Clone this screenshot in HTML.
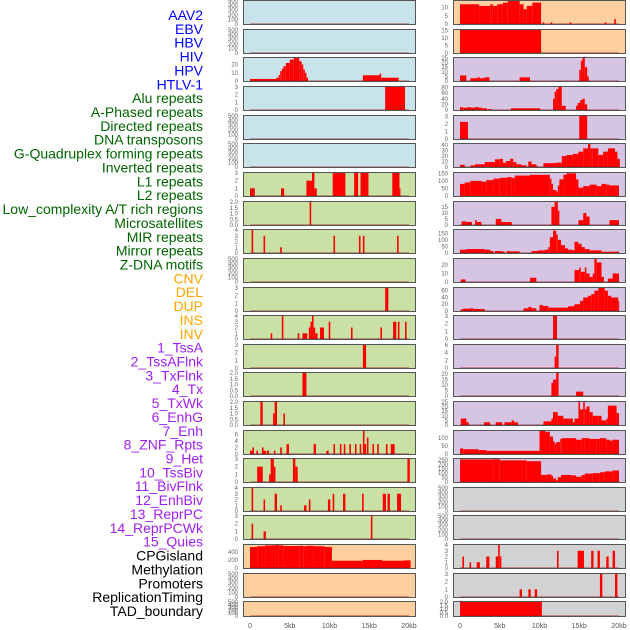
<!DOCTYPE html>
<html><head><meta charset="utf-8"><style>
body{margin:0;background:#fff;width:630px;height:630px;overflow:hidden}
svg{display:block}
</style></head><body>
<svg id="chart" width="630" height="630" xmlns="http://www.w3.org/2000/svg" font-family="Liberation Sans, sans-serif"></svg>
<script>
const trackLabels=["AAV2","EBV","HBV","HIV","HPV","HTLV-1","Alu repeats","A-Phased repeats","Directed repeats","DNA transposons","G-Quadruplex forming repeats","Inverted repeats","L1 repeats","L2 repeats","Low_complexity A/T rich regions","Microsatellites","MIR repeats","Mirror repeats","Z-DNA motifs","CNV","DEL","DUP","INS","INV","1_TssA","2_TssAFlnk","3_TxFlnk","4_Tx","5_TxWk","6_EnhG","7_Enh","8_ZNF_Rpts","9_Het","10_TssBiv","11_BivFlnk","12_EnhBiv","13_ReprPC","14_ReprPCWk","15_Quies","CPGisland","Methylation","Promoters","ReplicationTiming","TAD_boundary"];
const labelColors=["#0000ff","#006400","#ffa500","#a020f0","#000000"];
const labelGroups=[6,13,5,15,5];
const xTickValues=[0,5,10,15,20];
const xTickLabels=["0","5kb","10kb","15kb","20kb"];
const leftBg=["b","b","b","b","b","b","g","g","g","g","g","g","g","g","g","g","g","g","g","o","o","o"];
const rightBg=["o","o","p","p","p","p","p","p","p","p","p","p","p","p","p","p","p","x","x","x","x","x"];
const E=[0,100,200,300,400,500];
const leftTicks=[E,E,[0,10,20],[0,1,2,3],E,E,[0,1,2,3],[0,0.5,1,1.5,2],[0,1,2,3,4],E,[0,1,2,3],[0,1,2,3,4],[0,1,2,3],[0,0.5,1,1.5,2],[0,0.5,1,1.5,2],[0,2,4,6],[0,1,2,3],[0,1,2,3,4],[0,1,2,3],[0,200,400],E,E];
const leftMax=[500,500,28,3,500,500,3,2,4,500,3,4,3,2,2,7,3,4,3,570,500,500];
const rightTicks=[[0,5,10],[0,5,10,15],[0,5,10,15,20,25],[0,20,40,60,80],[0,1,2,3],[0,10,20,30,40],[0,50,100,150],[0,5,10,15],[0,50,100,150],[0,10,20],[0,20,40,60],[0,1,2,3],[0,2,4,6],[0,5,10,15,20],[0,5,10,15,20,25],[0,50,100],[0,50,100,150,200,250],E,E,[0,1,2,3,4],[0,1,2,3],[0,0.5,1,1.5,2]];
const rightMax=[14,15.5,25,82,3.1,42,152,19,175,27,68,3,6,21,25,145,260,500,500,4,3,2];
const leftSegments=[
[],[],
[[0,2,2.5],[2,3.3,2.5],[3.3,3.6,4],[3.6,3.8,7],[3.8,4,12],[4,4.2,15],[4.2,4.5,18],[4.5,5,22],[5,5.5,26],[5.5,6.2,28],[6.2,6.5,24],[6.5,6.7,20],[6.7,6.9,14],[6.9,7.1,10],[7.1,7.3,4],[14.2,16.3,7],[16.3,16.5,9],[16.5,18.7,4]],
[[17,19.5,3]],
[],[],
[[0,0.6,1],[3.9,4.3,1],[7.1,7.6,2],[7.6,7.8,2],[7.8,8.1,3],[8.1,8.4,1],[10.4,12,3],[13.1,13.6,3],[13.9,14.9,3],[17.9,18.8,3],[18.8,18.9,1]],
[[7.5,7.7,2]],
[[0.2,0.4,4],[1.7,1.9,3],[3.8,4,1],[10.5,10.7,3],[13.7,13.9,3],[14.2,14.4,3],[18.5,18.7,3]],
[],
[[17,17.4,3]],
[[2.6,2.8,1],[4,4.2,4],[6,6.2,1],[6.6,7.2,1],[7.4,7.6,2],[7.6,7.8,3],[7.8,8,4],[8,8.2,2],[8.2,8.5,1],[8.8,9.3,2],[9.9,10.1,3],[12.7,12.9,2],[16.4,16.6,2],[18,18.4,3],[18.6,18.8,3],[19.5,19.7,3]],
[[14.2,14.6,3]],
[[6.6,7.1,2]],
[[1.3,1.6,2],[2.9,3.1,1],[3.1,3.4,2],[4.2,4.4,1]],
[[0,0.3,1],[0.3,0.5,2],[0.8,1,1],[1.5,1.7,2],[1.7,2,1],[2.1,2.4,1],[3,3.2,1],[3.8,4,2],[4.6,4.9,3],[8,8.3,3],[9.6,9.9,1],[10.5,10.7,3],[11.3,11.5,3],[11.8,12,3],[12.5,12.7,3],[13.2,13.4,3],[13.8,14,3],[14.2,14.4,7],[14.4,14.6,3],[14.7,14.9,5],[15.4,15.6,3],[16,16.2,3],[17.1,17.3,3],[17.7,18.2,3]],
[[0.9,1.6,2],[2.4,2.6,1],[2.6,3,3],[3,3.2,2],[5.4,5.7,3],[5.7,6,2],[19.8,20.1,3]],
[[0.2,0.4,4],[1.7,1.9,2],[3.1,3.4,3],[3.8,4,1],[6.8,7.1,1],[7.4,7.6,2],[9.8,10.1,2],[10.4,10.6,3],[11.7,12,3],[14.1,14.3,3],[16.7,17.1,3],[17.3,17.6,3],[18.5,19,3]],
[[0.2,0.4,2],[1.7,2,1],[15.2,15.4,3]],
[[0,0.9,520],[0.9,1.9,540],[1.9,3.2,560],[3.2,3.6,570],[3.6,4.2,560],[4.2,6.2,545],[6.2,6.7,550],[6.7,7.1,540],[7.1,8,550],[8,9.4,540],[9.4,10.3,520],[10.3,14.2,180],[14.2,16.6,200],[16.6,19.3,180],[19.3,20.2,190]],
[],[]
];
const rightSegments=[
[[0,2.4,12],[2.4,3.8,11],[3.8,4.1,12],[4.1,4.7,11],[4.7,5.4,12],[5.4,6,13],[6,7.5,15],[7.5,8,12],[8,8.4,9],[8.4,9.1,11],[9.1,10.2,13],[10.4,10.6,1],[11.4,11.6,1],[13.8,14,1],[18.2,18.4,1],[19.4,19.6,3]],
[[0,10.2,15.5]],
[[0,0.8,6],[1.3,2.2,3],[2.2,2.5,4],[2.5,3.1,3],[3.1,3.7,4],[7.5,8.8,4],[15,15.2,12],[15.2,15.4,22],[15.4,15.7,25],[15.7,16,15],[16,16.2,5]],
[[0,0.4,10],[0.4,0.9,8],[0.9,1.4,10],[1.4,1.8,8],[1.8,2.4,10],[2.4,2.8,8],[2.8,3.4,6],[3.5,4,3],[6.4,10.1,6],[11.7,11.9,40],[11.9,12.1,65],[12.1,12.4,75],[12.4,12.8,85],[12.8,13.3,15],[14.6,14.8,15],[14.8,15.1,25],[15.1,15.4,35],[15.4,15.7,40],[15.7,16,20]],
[[0,1,2.3],[15,16,3.2]],
[[0,0.6,4],[1.3,1.9,3],[1.9,3.1,5],[3.1,4.4,9],[4.4,5,14],[5,5.4,15],[5.4,5.8,8],[5.8,6.3,11],[6.3,6.7,15],[6.7,7.1,9],[7.1,7.7,5],[7.7,8.4,3],[8.6,9,10],[9,9.6,5],[9.6,9.8,2],[10.5,12.1,7],[12.1,12.8,8],[12.8,13.4,20],[13.4,14.2,22],[14.2,14.9,24],[14.9,15.5,28],[15.5,16.1,34],[16.1,16.4,42],[16.4,16.7,34],[16.7,17.4,34],[17.4,18,22],[18,18.6,28],[18.6,19.5,34],[19.5,19.8,28],[19.8,20.1,15]],
[[0,0.6,80],[0.6,1.3,90],[1.3,2.7,100],[2.7,3.3,95],[3.3,4.2,105],[4.2,5,115],[5,5.9,120],[5.9,6.5,125],[6.5,6.9,120],[6.9,8.8,135],[8.8,10,140],[10,11.3,140],[11.3,11.5,115],[11.5,11.7,80],[11.7,12.1,40],[12.1,12.3,30],[12.3,12.5,70],[12.5,13,110],[13,13.4,140],[13.4,14.6,150],[14.6,14.9,110],[14.9,15.5,55],[15.5,16.3,65],[16.3,17.2,75],[17.2,17.8,65],[17.8,18.4,80],[18.4,18.8,75],[18.8,20,70]],
[[0.2,0.8,3],[0.8,1.5,2.5],[1.9,2.1,4],[2.1,2.7,2.5],[4.5,5.2,5],[5.2,6.5,2.5],[11.5,11.9,15],[11.9,12.3,19],[12.3,12.5,12],[14.9,15.5,4],[15.5,15.9,10],[15.9,16.3,7],[18.8,20,4]],
[[0,0.8,25],[0.8,1.7,30],[1.7,3.1,30],[3.1,3.8,25],[3.8,4.2,15],[4.4,5.2,15],[5.2,5.6,12],[5.9,6.3,15],[6.3,7.5,12],[9,9.8,15],[9.8,10.7,20],[10.7,11.1,25],[11.1,11.3,45],[11.3,11.7,120],[11.7,12.1,170],[12.1,12.3,140],[12.3,12.7,100],[12.7,13.2,60],[13.2,13.6,35],[13.6,14.2,25],[14.2,14.4,20],[14.4,14.9,85],[14.9,15.3,70],[15.3,15.7,45],[15.7,16.3,30],[16.3,16.7,20],[16.7,17.8,20],[17.8,20,10]],
[[0.1,0.7,3],[8.8,9.6,5],[14.4,15,14],[15,15.2,17],[15.2,15.7,12],[15.7,15.9,17],[15.9,16.3,10],[16.3,16.7,6],[16.7,16.9,10],[16.9,17.2,27],[17.2,17.8,23],[17.8,18.1,6],[18.6,19.2,4],[19.2,20,10]],
[[0.1,0.4,5],[0.4,1.3,7],[1.3,1.7,8],[1.7,3.1,6],[8,8.6,8],[8.6,9,12],[9,9.6,8],[10,10.4,18],[10.4,11.1,15],[11.1,13.6,10],[13.6,14.4,14],[14.4,15.1,20],[15.1,15.5,30],[15.5,16.1,40],[16.1,16.5,45],[16.5,16.9,50],[16.9,17.4,60],[17.4,18.2,68],[18.2,18.6,60],[18.6,19,45],[19,19.9,40],[19.9,20,30]],
[[11.7,12.2,3]],
[[11.9,12.1,3],[12.1,12.4,6]],
[[11.5,11.7,12],[11.7,12.1,15],[12.1,12.4,21],[14.6,15.5,4]],
[[0.1,0.8,7],[0.8,1.1,3],[3,3.8,3],[4.5,5.3,3],[5.6,6.5,3],[6.5,6.8,5],[6.8,7.3,3],[10.5,11.5,4],[11.5,11.7,7],[11.7,12.3,14],[12.3,13,10],[13,13.6,7],[13.6,14.2,7],[14.2,14.4,3],[14.4,14.9,7],[14.9,15.1,25],[15.1,15.5,17],[15.5,15.7,25],[15.7,15.9,17],[15.9,16.3,20],[16.3,16.7,14],[16.7,17.4,10],[17.4,17.8,10],[17.8,18.4,5],[18.4,18.6,7],[18.6,19.7,21],[19.7,20,13]],
[[0,0.4,35],[0.4,2.3,30],[2.3,3.3,25],[3.3,10,20],[10,10.7,145],[10.7,11.3,140],[11.3,11.7,110],[11.7,11.9,80],[11.9,12.1,65],[12.1,12.6,75],[12.6,12.8,95],[12.8,14.6,100],[14.6,15.3,90],[15.3,15.7,100],[15.7,16.3,100],[16.3,17.2,95],[17.2,17.6,95],[17.6,18.4,100],[18.4,18.8,90],[18.8,19.2,85],[19.2,20,90]],
[[0,4.2,255],[4.2,5,258],[5,8.4,245],[8.4,10.2,235],[10.2,10.9,80],[10.9,11.5,85],[11.5,11.7,70],[11.7,12.1,40],[12.1,12.3,20],[12.3,12.7,55],[12.7,14,80],[14,14.6,75],[14.6,15.3,60],[15.3,15.7,80],[15.7,16.7,95],[16.7,17.6,100],[17.6,18.2,110],[18.2,19.2,120],[19.2,20,130]],
[],[],
[[0.3,0.5,2],[1.2,1.4,1],[2.1,2.5,1],[3.3,3.7,2],[4.5,4.8,2],[4.8,5,4],[5,5.2,2],[12.2,12.4,3],[14.8,15.6,3],[16.5,16.8,3],[17.3,17.6,3],[18.4,18.7,2],[19.2,19.5,3]],
[[7.5,7.8,1],[8.6,8.9,1],[9.4,9.7,1],[17.6,17.9,3],[19.5,19.8,3]],
[[0,10.3,2]]
];
const rowTops=[0,29,57,86,115,143,172,201,229,258,287,315,344,372,401,430,458,487,515,544,573,601];
const bgColors={b:"#c8e3ea",g:"#c9e1a5",o:"#fed0a0",p:"#d5c5e2",x:"#d2d2d2"};
const NS="http://www.w3.org/2000/svg";
const svg=document.getElementById('chart');
function mk(tag,attrs,parent){const e=document.createElementNS(NS,tag);for(const k in attrs)e.setAttribute(k,attrs[k]);(parent||svg).appendChild(e);return e;}

let li=0;
labelGroups.forEach((n,g)=>{for(let i=0;i<n;i++){const t=mk('text',{x:203,y:15+li*13.86+5,'text-anchor':'end','font-size':14,fill:labelColors[g]});


t.textContent=trackLabels[li];li++;}});

function drawColumn(px,bgs,ticks,maxes,segs,side){
  const x0=px+7,x1=px+166;
  const xs=v=>x0+(x1-x0)*v/20;
  rowTops.forEach((T,r)=>{
    const H=r===rowTops.length-1?16:25;
    const g=mk('g',{});
    
    
    mk('rect',{x:px,y:T,width:173,height:H,fill:bgColors[bgs[r]]},g);
    const yMax=maxes[r];
    const ys=v=>T+H-1-(H-2)*Math.min(v,yMax)/yMax;
    segs[r].forEach(s=>{
      const b=mk('rect',{x:xs(s[0]),y:ys(s[2]),width:Math.max(1,xs(s[1])-xs(s[0])),height:ys(0)-ys(s[2]),fill:'#ff0000'},g);
      
      
    });
    mk('line',{x1:xs(0),x2:xs(20),y1:ys(0),y2:ys(0),stroke:'rgba(150,0,0,0.45)','stroke-width':1.5},g);
    mk('rect',{x:px+0.5,y:T+0.5,width:172,height:H-1,fill:'none',stroke:'#555','stroke-width':1},g);
    const dec=ticks[r].some(v=>v%1!==0);
    ticks[r].forEach(v=>{
      const t=mk('text',{x:px-5,y:ys(v)+2,'text-anchor':'end','font-size':6,fill:'#666'},g);
      
      
      t.textContent=dec?v.toFixed(1):String(v);
    });
  });
  xTickValues.forEach((v,i)=>{
    const t=mk('text',{x:xs(v),y:628,'text-anchor':'middle','font-size':7,fill:'#555'});
    
    
    t.textContent=xTickLabels[i];
  });
}
drawColumn(243,leftBg,leftTicks,leftMax,leftSegments,'left');
drawColumn(453,rightBg,rightTicks,rightMax,rightSegments,'right');
</script>
</body></html>
